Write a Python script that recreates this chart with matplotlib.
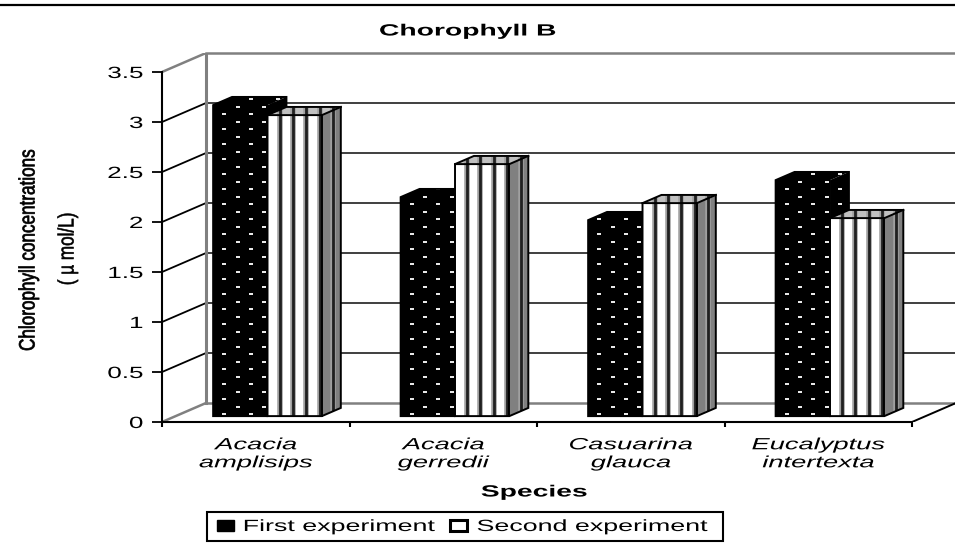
import numpy as np
import matplotlib
matplotlib.use('Agg')
from matplotlib import pyplot as plt
from matplotlib.lines import Line2D
from matplotlib.patches import Patch, Polygon, Rectangle
from matplotlib.patheffects import AbstractPathEffect
from matplotlib.transforms import Affine2D

species = ['Acacia\namplisips', 'Acacia\ngerredii', 'Casuarina\nglauca', 'Eucalyptus\nintertexta']
first_experiment = [3.11, 2.19, 1.96, 2.36]
second_experiment = [3.01, 2.52, 2.13, 1.98]
y_ticks = [0, 0.5, 1, 1.5, 2, 2.5, 3, 3.5]
y_tick_labels = ['0', '0.5', '1', '1.5', '2', '2.5', '3', '3.5']

W, H = 955, 544
FONT = 'Liberation Sans'

# size of the oblique depth, in data units (1 = back wall)
DX = 44 / 187.5
DY = 0.19
BAR_W = 0.29
D_FRONT = 0.31
D_BACK = 0.74
DOT_X = 26.8 / 187.5
DOT_Y = 0.075
STRIPE_X = 13.4 / 187.5


class Stretch(AbstractPathEffect):
    # the text in the picture is drawn wider (or narrower) than the font
    def __init__(self, sx, anchor='center', stroke=0):
        super().__init__()
        self.sx = sx
        self.anchor = anchor
        self.stroke = stroke

    def draw_path(self, renderer, gc, tpath, affine, rgbFace=None):
        ext = tpath.get_extents()
        if self.anchor == 'right':
            c = ext.x1
        elif self.anchor == 'left':
            c = ext.x0
        else:
            c = (ext.x0 + ext.x1) / 2
        squeeze = Affine2D().translate(-c, 0).scale(self.sx, 1).translate(c, 0)
        if self.stroke:
            gc.set_linewidth(self.stroke)
        super().draw_path(renderer, gc, tpath, squeeze + affine, rgbFace)


def proj(x, v, d):
    return (x + d * DX, v + d * DY)


def bar3d(ax, left, value, kind, z):
    r = left + BAR_W
    front = [proj(left, 0, D_FRONT), proj(r, 0, D_FRONT), proj(r, value, D_FRONT), proj(left, value, D_FRONT)]
    top = [proj(left, value, D_FRONT), proj(r, value, D_FRONT), proj(r, value, D_BACK), proj(left, value, D_BACK)]
    side = [proj(r, 0, D_FRONT), proj(r, 0, D_BACK), proj(r, value, D_BACK), proj(r, value, D_FRONT)]
    if kind == 'dots':
        colors = ['black', 'black', 'black']
    else:
        colors = ['white', '#c0c0c0', '#808080']
    for pts, c in zip([front, top, side], colors):
        ax.add_patch(Polygon(pts, closed=True, facecolor=c, edgecolor='none', zorder=z))

    x0 = front[0][0]
    x_end = side[1][0]
    y0 = front[0][1]
    y_end = top[2][1]
    outline = [front[0], front[1], side[1], side[2], top[3], front[3]]
    clip = Polygon(outline, closed=True, facecolor='none', edgecolor='none', zorder=z)
    ax.add_patch(clip)

    if kind == 'dots':
        # staggered white dots
        for row, yy in enumerate(np.arange(y0 + 0.02, y_end, DOT_Y)):
            shift = 0.5 * DOT_X * (row % 2)
            for pp_x in np.arange(x0 + 11 / 187.5 + shift, x_end, DOT_X):
                line, = ax.plot([pp_x], [yy], marker='_', ms=3.5, mew=1.3, color='#e8e8e8', zorder=z + 0.1)
                line.set_clip_path(clip)
    else:
        # vertical stripes run through all three faces
        for pp_x in np.arange(x0 + 12 / 187.5, x_end, STRIPE_X):
            halo, = ax.plot([pp_x, pp_x], [y0, y_end], color='#a0a0a0', lw=4, zorder=z + 0.1, solid_capstyle='butt')
            line, = ax.plot([pp_x, pp_x], [y0, y_end], color='#202020', lw=2, zorder=z + 0.2, solid_capstyle='butt')
            halo.set_clip_path(clip)
            line.set_clip_path(clip)

    ax.add_patch(Polygon(outline, closed=True, facecolor='none', edgecolor='black', lw=1.4, zorder=z + 0.3))
    if kind != 'dots':
        ax.plot([front[3][0], front[2][0], top[2][0]], [front[3][1], front[2][1], top[2][1]], color='black', lw=1.4, zorder=z + 0.3)
        ax.plot([front[2][0], front[1][0]], [front[2][1], front[1][1]], color='black', lw=1.4, zorder=z + 0.3)


fig = plt.figure(figsize=(W / 100, H / 100), dpi=100, facecolor='white')
ax = fig.add_axes([162 / W, 1 - 422 / H, (955 - 162) / W, (422 - 53) / H])
ax.set_xlim(0, 793 / 187.5)
ax.set_ylim(0, 3.69)
ax.patch.set_visible(False)

# back wall and side wall
n = len(species)
for v in y_ticks:
    c = '#808080' if v in (0, 3.5) else 'black'
    lw = 1.8 if v in (0, 3.5) else 1.3
    ax.plot([DX, DX + n], [v + DY, v + DY], color='#303030' if c == 'black' else c, lw=lw, zorder=1, clip_on=False)
    ax.plot([0, DX], [v, v + DY], color=c, lw=lw, zorder=1)
ax.plot([DX, DX], [DY, 3.5 + DY], color='#808080', lw=2.2, zorder=1)
ax.plot([n, n + DX], [0, DY], color='black', lw=1.4, zorder=1)

for i in range(n):
    bar3d(ax, i + 0.2, first_experiment[i], 'dots', 3 + 2 * i)
    bar3d(ax, i + 0.2 + BAR_W, second_experiment[i], 'stripes', 4 + 2 * i)

for s in ['top', 'right']:
    ax.spines[s].set_visible(False)
ax.spines['left'].set_bounds(0, 3.5)
ax.spines['bottom'].set_bounds(0, n)
ax.spines['left'].set_linewidth(1.5)
ax.spines['bottom'].set_linewidth(1.5)

ax.set_yticks(y_ticks)
ax.set_yticklabels(y_tick_labels, family=FONT, fontsize=11.7)
ax.set_xticks(range(n + 1))
ax.set_xticklabels([])
ax.set_xticks(np.arange(n) + 0.5, minor=True)
ax.set_xticklabels(species, minor=True, family=FONT, style='italic', fontsize=11.7, linespacing=1.25)
ax.tick_params(axis='y', length=7.2, width=1.3, pad=6.5)
ax.tick_params(axis='x', which='major', length=3.5, width=1.5)
ax.tick_params(axis='x', which='minor', length=0, pad=11)
for t in ax.get_yticklabels():
    t.set_path_effects([Stretch(1.6, 'right')])
for t in ax.get_xticklabels(minor=True):
    t.set_path_effects([Stretch(1.68)])

title = fig.text(467.5 / W, 1 - 31 / H, 'Chorophyll B', family=FONT, fontweight='bold', fontsize=11.7, ha='center', va='center')
xlab = fig.text(534 / W, 1 - 492 / H, 'Species', family=FONT, fontweight='bold', fontsize=11.7, ha='center', va='center')
title.set_path_effects([Stretch(1.74)])
xlab.set_path_effects([Stretch(1.74)])
ylab1 = fig.text(29 / W, 1 - 250 / H, 'Chlorophyll concentrations', family=FONT, fontsize=16, rotation=90, ha='center', va='center')
ylab2 = fig.text(68 / W, 1 - 249 / H, '( µ mol/L)', family=FONT, fontsize=16, rotation=90, ha='center', va='center')
ylab1.set_path_effects([Stretch(0.77, stroke=0.5)])
ylab2.set_path_effects([Stretch(0.77, stroke=0.4)])

fig.add_artist(Line2D([0, 1], [1 - 4.5 / H, 1 - 4.5 / H], color='black', lw=1.6))

handles = [Patch(facecolor='black', edgecolor='black'), Patch(facecolor='white', edgecolor='black', lw=2.2)]
leg = fig.legend(handles, ['First experiment', 'Second experiment'], ncol=2, loc='center left',
                 bbox_to_anchor=(207 / W, 1 - 526.5 / H), frameon=False, borderaxespad=0, borderpad=0.6,
                 prop={'family': FONT, 'size': 11.7}, handlelength=1.05, handleheight=0.67,
                 handletextpad=0.6, columnspacing=5.5)
for t in leg.get_texts():
    t.set_path_effects([Stretch(1.65, 'left')])
fig.add_artist(Rectangle((207 / W, 1 - 541 / H), 516 / W, 29 / H, transform=fig.transFigure,
                         facecolor='none', edgecolor='black', lw=1.5))

fig.savefig('out.png', dpi=100)
